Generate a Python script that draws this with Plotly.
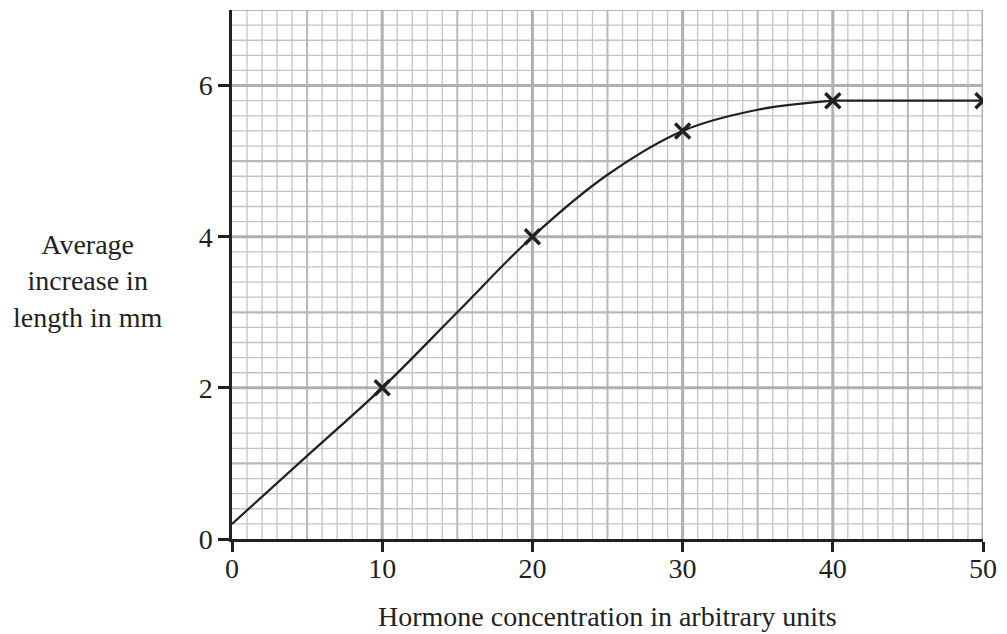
import plotly.graph_objects as go

# Data
curve_x = [0, 5, 10, 15, 20, 25, 30, 35, 40]
curve_y = [0.2, 1.1, 2.0, 3.0, 4.0, 4.82, 5.4, 5.68, 5.8]
flat_x = [40, 50]
flat_y = [5.8, 5.8]
point_x = [10, 20, 30, 40, 50]
point_y = [2.0, 4.0, 5.4, 5.8, 5.8]
x_ticks = [0, 10, 20, 30, 40, 50]
y_ticks = [0, 2, 4, 6]

X_MAX, Y_MAX = 50, 7
ink = "#231f20"

fig = go.Figure()

# graph-paper grid
shapes = []
def vline(x, w, c):
    shapes.append(dict(type="line", xref="x", yref="y", x0=x, x1=x, y0=0, y1=Y_MAX,
                       line=dict(color=c, width=w), layer="below"))
def hline(y, w, c):
    shapes.append(dict(type="line", xref="x", yref="y", y0=y, y1=y, x0=0, x1=X_MAX,
                       line=dict(color=c, width=w), layer="below"))

for i in range(0, 51):
    if i % 5 != 0:
        vline(i, 1.3, "#c4c4c4")
for i in range(0, 36):
    if i % 5 != 0:
        hline(i * 0.2, 1.3, "#c4c4c4")
for i in range(5, 51, 10):
    vline(i, 2, "#b8b8b8")
for i in range(1, 8, 2):
    hline(i, 2.2, "#b8b8b8")
for i in range(10, 51, 10):
    vline(i, 3, "#b0b0b0")
for i in range(2, 7, 2):
    hline(i, 3, "#b0b0b0")

fig.add_trace(go.Scatter(x=curve_x, y=curve_y, mode="lines",
                         line=dict(shape="spline", smoothing=1.0, color=ink, width=2.2),
                         hoverinfo="skip", showlegend=False))
fig.add_trace(go.Scatter(x=flat_x, y=flat_y, mode="lines",
                         line=dict(color=ink, width=2.2), showlegend=False))
fig.add_trace(go.Scatter(x=point_x, y=point_y, mode="markers",
                         marker=dict(symbol="x-thin", size=15,
                                     line=dict(color=ink, width=3.5)),
                         showlegend=False))

font = dict(family="Liberation Serif, Times New Roman, serif", size=28, color=ink)

fig.update_layout(
    width=1007, height=634,
    margin=dict(l=232, r=19, t=10, b=95),
    plot_bgcolor="white", paper_bgcolor="white",
    shapes=shapes,
    font=font,
    xaxis=dict(range=[0, X_MAX], tickvals=x_ticks, ticks="outside", ticklen=10,
               tickwidth=2.5, tickcolor=ink, showline=True, linecolor=ink,
               linewidth=2.5, showgrid=False, zeroline=False, tickfont=font,
               ticklabelstandoff=-7),
    yaxis=dict(range=[0, Y_MAX], tickvals=y_ticks, ticks="outside", ticklen=11,
               tickwidth=2.5, tickcolor=ink, showline=True, linecolor=ink,
               linewidth=2.5, showgrid=False, zeroline=False, tickfont=font),
    annotations=[
        dict(text="Average<br>increase in<br>length in mm", xref="paper", yref="paper",
             x=-0.1911, y=0.4877, xanchor="center", yanchor="middle", showarrow=False,
             font=font, align="center"),
        dict(text="Hormone concentration in arbitrary units", xref="paper", yref="paper",
             x=0.5, y=-0.1456, xanchor="center", yanchor="middle", showarrow=False, font=font),
    ],
)

fig.write_html("out.html", config={"displayModeBar": False},
               post_script="document.body.style.margin='0px';")
